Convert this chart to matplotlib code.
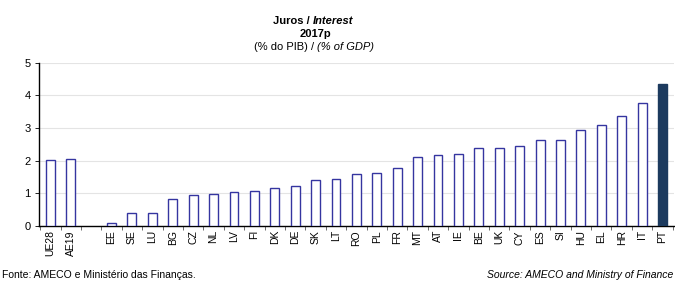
import numpy as np
import matplotlib.pyplot as plt

plt.rcParams['font.family'] = ['Liberation Sans', 'DejaVu Sans']

# data; '' marks the empty slot after the aggregates
countries = ['UE28', 'AE19', '', 'EE', 'SE', 'LU', 'BG', 'CZ', 'NL', 'LV', 'FI',
             'DK', 'DE', 'SK', 'LT', 'RO', 'PL', 'FR', 'MT', 'AT', 'IE', 'BE',
             'UK', 'CY', 'ES', 'SI', 'HU', 'EL', 'HR', 'IT', 'PT']
values = [2.02, 2.06, np.nan, 0.10, 0.38, 0.39, 0.82, 0.94, 0.98, 1.05, 1.08,
          1.16, 1.23, 1.41, 1.45, 1.60, 1.62, 1.79, 2.12, 2.16, 2.19, 2.39,
          2.40, 2.46, 2.63, 2.63, 2.94, 3.10, 3.36, 3.78, 4.35]
highlight = 'PT'

fig = plt.figure(figsize=(6.75, 2.82), dpi=100)
ax = fig.add_axes([0.058, 0.199, 0.94, 0.578])

x = np.arange(len(countries))
edge = '#3535a0'
for xi, c, v in zip(x, countries, values):
    if np.isnan(v):
        continue
    if c == highlight:
        ax.bar(xi, v, width=0.44, color='#1c3a5e', edgecolor='#1c3a5e', linewidth=1.0, zorder=3)
    else:
        ax.bar(xi, v, width=0.44, color='white', edgecolor=edge, linewidth=1.0, zorder=3)

ax.set_xlim(-0.55, len(countries) - 0.45)
ax.set_ylim(0, 5)
ax.set_yticks([0, 1, 2, 3, 4, 5])
ax.yaxis.grid(True, color='#e4e4e4', linewidth=0.8, zorder=0)

ax.set_xticks(x)
ax.set_xticklabels(countries, rotation=90, fontsize=7.5)
ax.tick_params(axis='x', length=0, pad=3)
ax.set_xticks(np.arange(-0.5, len(countries), 1), minor=True)
ax.tick_params(axis='x', which='minor', length=3, width=0.6, direction='out', color='#555555')
ax.tick_params(axis='y', labelsize=8, length=3, width=0.6, pad=3)

for s in ['top', 'right']:
    ax.spines[s].set_visible(False)
ax.spines['left'].set_linewidth(1.0)
ax.spines['bottom'].set_linewidth(1.0)

# titles
tx = 0.467
fig.text(tx - 0.004, 0.925, 'Juros / ', ha='right', va='center', fontsize=8, fontweight='bold')
fig.text(tx - 0.004, 0.925, 'Interest', ha='left', va='center', fontsize=8,
         fontweight='bold', style='italic')
fig.text(tx, 0.878, '2017p', ha='center', va='center', fontsize=8, fontweight='bold')
fig.text(tx + 0.003, 0.833, '(% do PIB) / ', ha='right', va='center', fontsize=8)
fig.text(tx + 0.003, 0.833, '(% of GDP)', ha='left', va='center', fontsize=8, style='italic')

# sources
fig.text(0.003, 0.008, 'Fonte: AMECO e Ministério das Finanças.', ha='left', va='bottom', fontsize=7.5)
fig.text(0.997, 0.008, 'Source: AMECO and Ministry of Finance', ha='right', va='bottom',
         fontsize=7.5, style='italic')

fig.savefig('out.png', dpi=100)
